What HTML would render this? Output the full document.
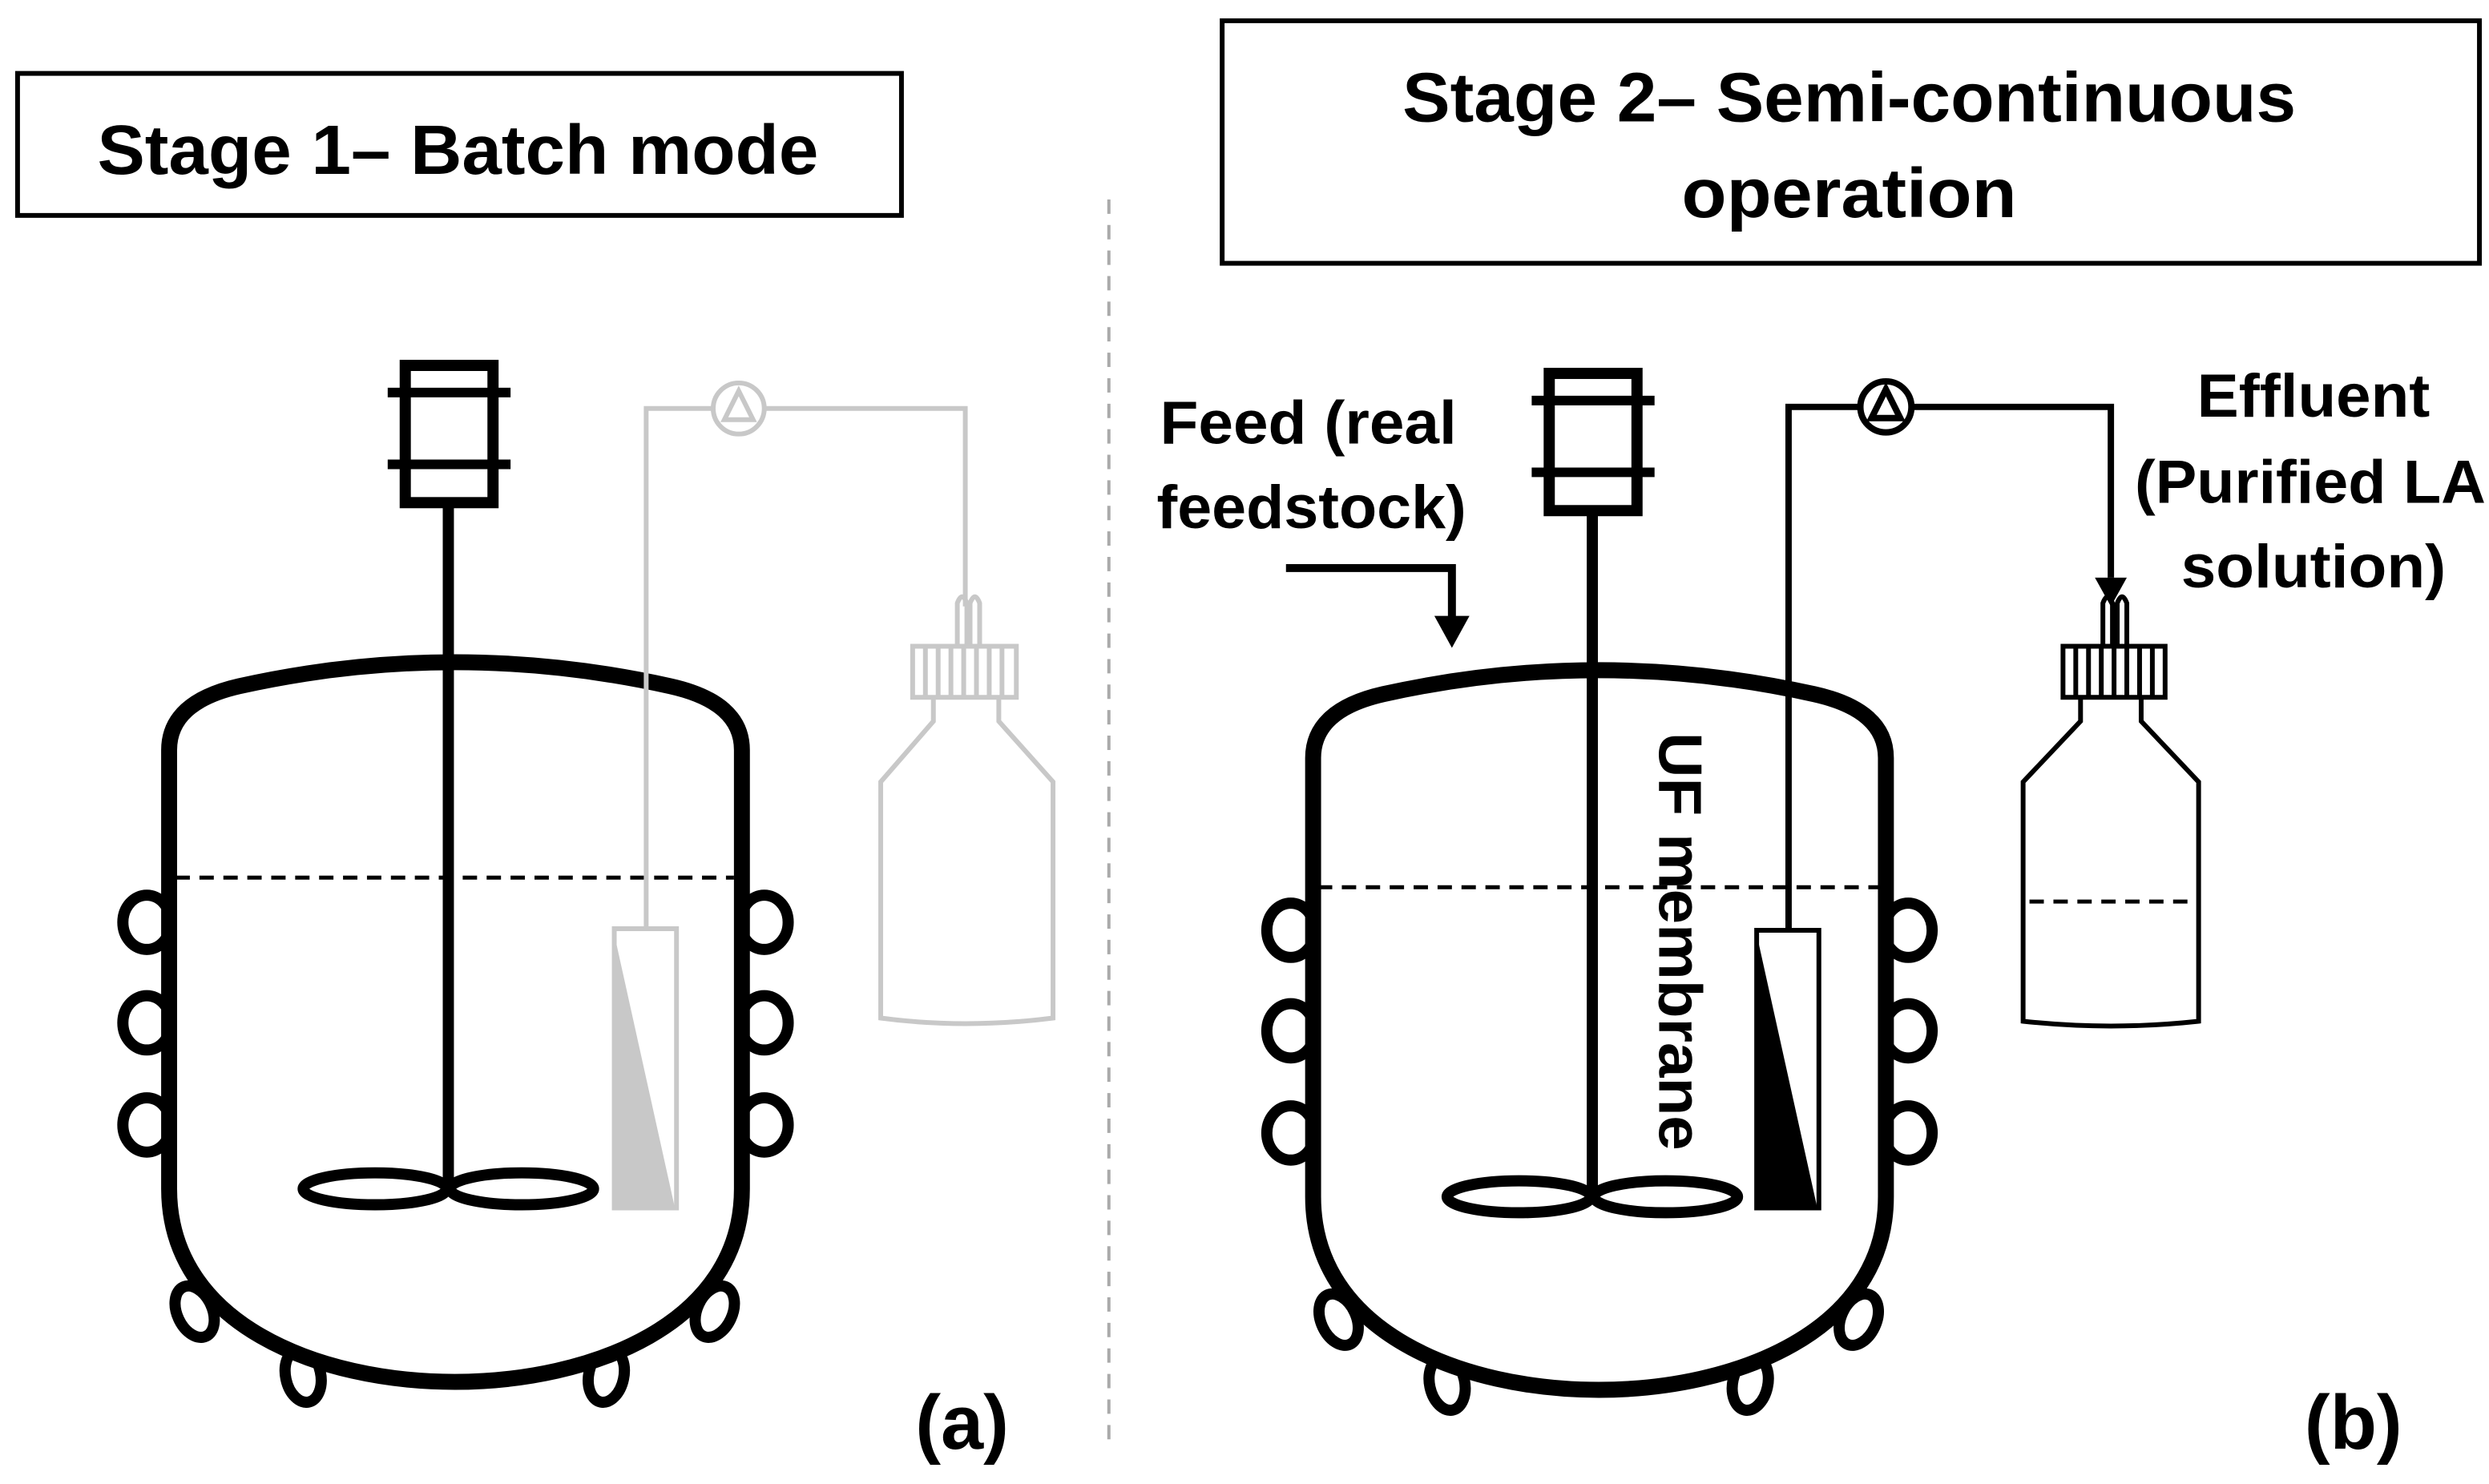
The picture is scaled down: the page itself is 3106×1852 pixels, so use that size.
<!DOCTYPE html>
<html><head><meta charset="utf-8"><style>
html,body{margin:0;padding:0;background:#fff;}
svg{display:block;}
text{font-family:"Liberation Sans",sans-serif;font-weight:bold;fill:#000;}
</style></head><body>
<svg width="3106" height="1852" viewBox="0 0 1560 930" preserveAspectRatio="none" xmlns="http://www.w3.org/2000/svg">
<defs>
<g id="vessel">
  <g fill="#fff" stroke="#000" stroke-width="7">
    <ellipse cx="92" cy="578" rx="15" ry="17"/><ellipse cx="92" cy="641" rx="15" ry="17"/><ellipse cx="92" cy="705" rx="15" ry="17"/>
    <ellipse cx="479" cy="578" rx="15" ry="17"/><ellipse cx="479" cy="641" rx="15" ry="17"/><ellipse cx="479" cy="705" rx="15" ry="17"/>
    <ellipse cx="0" cy="0" rx="11" ry="17" transform="translate(122,822) rotate(-25)"/>
    <ellipse cx="0" cy="0" rx="11" ry="17" transform="translate(190,862) rotate(-12)"/>
    <ellipse cx="0" cy="0" rx="11" ry="17" transform="translate(380,862) rotate(12)"/>
    <ellipse cx="0" cy="0" rx="11" ry="17" transform="translate(448,822) rotate(25)"/>
  </g>
  <path d="M106,745 L106,470 Q106,440 150,430 Q285,400 420,430 Q465,440 465,470 L465,745 C465,830 370,866 285,866 C200,866 106,830 106,745 Z" fill="#fff" stroke="#000" stroke-width="10"/>
  <rect x="254" y="229" width="55" height="86" fill="#fff" stroke="#000" stroke-width="7"/>
  <line x1="243" y1="246" x2="320" y2="246" stroke="#000" stroke-width="6"/>
  <line x1="243" y1="291" x2="320" y2="291" stroke="#000" stroke-width="6"/>
  <line x1="281" y1="315" x2="281" y2="745" stroke="#000" stroke-width="7"/>
  <ellipse cx="235" cy="745" rx="45" ry="10" fill="none" stroke="#000" stroke-width="7"/>
  <ellipse cx="327" cy="745" rx="45" ry="10" fill="none" stroke="#000" stroke-width="7"/>
</g>
</defs>

<rect x="11" y="46" width="554" height="89" fill="none" stroke="#000" stroke-width="3"/>
<text x="287" y="109" font-size="44" text-anchor="middle" textLength="452" lengthAdjust="spacingAndGlyphs">Stage 1– Batch mode</text>
<rect x="766" y="13" width="788" height="152" fill="none" stroke="#000" stroke-width="3"/>
<text x="1159" y="76" font-size="44" text-anchor="middle" textLength="560" lengthAdjust="spacingAndGlyphs">Stage 2– Semi-continuous</text>
<text x="1159" y="136" font-size="44" text-anchor="middle" textLength="210" lengthAdjust="spacingAndGlyphs">operation</text>

<line x1="695" y1="125" x2="695" y2="905" stroke="#aaa" stroke-width="2" stroke-dasharray="9,7"/>

<use href="#vessel"/>
<line x1="110" y1="550" x2="460" y2="550" stroke="#000" stroke-width="2.5" stroke-dasharray="9,6"/>
<g stroke="#c8c8c8" fill="none" stroke-width="3">
  <polyline points="405,582 405,256 447,256"/>
  <circle cx="463" cy="256" r="16" fill="#fff"/>
  <polygon points="463,245 454,263 472,263"/>
  <polyline points="479,256 605,256 605,380"/>
  <path d="M600,405 L600,378 Q603,370 606,378 L606,405 M608,405 L608,378 Q611,370 614,378 L614,405"/>
  <rect x="572" y="405" width="65" height="32" fill="#fff"/>
  <path d="M580,405v32M588,405v32M596,405v32M604,405v32M612,405v32M620,405v32M628,405v32"/>
  <path d="M585,437 L585,452 L552,490 L552,638 Q605,645 660,638 L660,490 L626,452 L626,437"/>
  <rect x="385" y="582" width="39" height="175" fill="#fff"/>
</g>
<polygon points="386,590 386,757 423,757" fill="#c8c8c8"/>
<text x="603" y="908" font-size="48" text-anchor="middle">(a)</text>

<use href="#vessel" transform="translate(717,5)"/>
<line x1="826" y1="556" x2="1178" y2="556" stroke="#000" stroke-width="2.5" stroke-dasharray="9,6"/>
<g stroke="#000" fill="none" stroke-width="4">
  <polyline points="1121,583 1121,255 1166,255"/>
  <circle cx="1182" cy="255" r="16" fill="#fff"/>
  <polygon points="1182,244 1173,262 1191,262"/>
  <polyline points="1198,255 1323,255 1323,362"/>
  <path d="M1318,405 L1318,378 Q1321,370 1324,378 L1324,405 M1327,405 L1327,378 Q1330,370 1333,378 L1333,405" stroke-width="3"/>
  <rect x="1293" y="405" width="64" height="32" fill="#fff" stroke-width="3"/>
  <path d="M1301,405v32M1309,405v32M1317,405v32M1325,405v32M1333,405v32M1341,405v32M1349,405v32" stroke-width="3"/>
  <path d="M1304,437 L1304,452 L1268,490 L1268,640 Q1323,646 1378,640 L1378,490 L1342,452 L1342,437" stroke-width="3"/>
  <rect x="1101" y="583" width="39" height="174" fill="#fff" stroke-width="3"/>
</g>
<polygon points="1323,380 1313,362 1333,362" fill="#000"/>
<line x1="1272" y1="565" x2="1376" y2="565" stroke="#000" stroke-width="2.5" stroke-dasharray="9,6"/>
<polygon points="1102,590 1102,757 1139,757" fill="#000"/>
<polyline points="806,356 910,356 910,388" fill="none" stroke="#000" stroke-width="5"/>
<polygon points="910,406 899,386 921,386" fill="#000"/>

<text x="820" y="278" font-size="38" text-anchor="middle" textLength="186" lengthAdjust="spacingAndGlyphs">Feed (real</text>
<text x="822" y="331" font-size="38" text-anchor="middle" textLength="194" lengthAdjust="spacingAndGlyphs">feedstock)</text>
<text x="1450" y="261" font-size="38" text-anchor="middle" textLength="146" lengthAdjust="spacingAndGlyphs">Effluent</text>
<text x="1448" y="315" font-size="38" text-anchor="middle" textLength="220" lengthAdjust="spacingAndGlyphs">(Purified LA</text>
<text x="1450" y="368" font-size="38" text-anchor="middle" textLength="166" lengthAdjust="spacingAndGlyphs">solution)</text>
<text transform="translate(1040,590) rotate(90)" font-size="38" text-anchor="middle" textLength="262" lengthAdjust="spacingAndGlyphs">UF membrane</text>
<text x="1475" y="908" font-size="48" text-anchor="middle">(b)</text>
</svg>
</body></html>
